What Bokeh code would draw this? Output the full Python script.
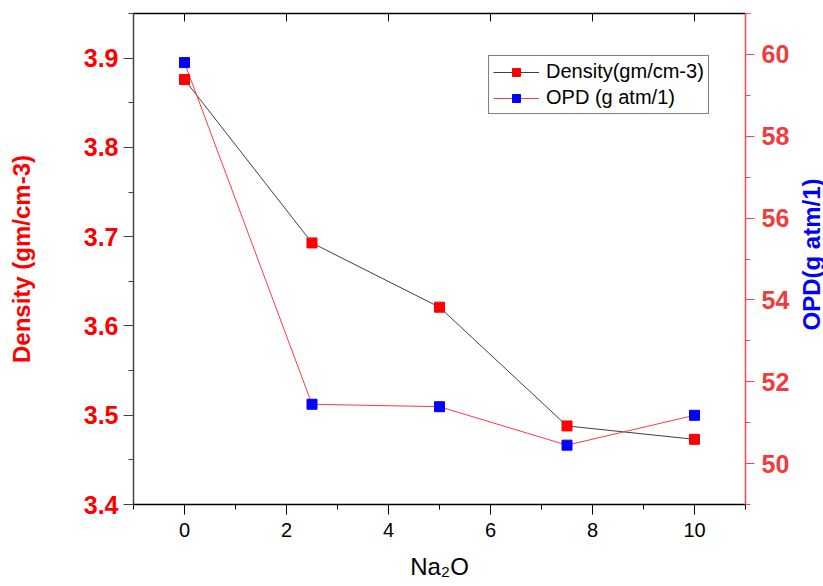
import math
from bokeh.plotting import figure
from bokeh.layouts import row
from bokeh.models import Range1d, LinearAxis, FixedTicker, Legend, LegendItem, Label
from bokeh.embed import file_html
from bokeh.resources import INLINE

na2o = [0, 2.5, 5, 7.5, 10]
density = [3.876, 3.693, 3.621, 3.488, 3.473]
opd = [59.80, 51.45, 51.39, 50.45, 51.18]

x_ticks = [0, 2, 4, 6, 8, 10]
left_ticks = [3.4, 3.5, 3.6, 3.7, 3.8, 3.9]
right_ticks = [50, 52, 54, 56, 58, 60]

FONT = "Liberation Sans"

p = figure(width=795, height=586, output_backend="svg", toolbar_location=None,
           x_range=Range1d(-1, 11), y_range=Range1d(3.4, 3.95),
           min_border_left=133, min_border_right=50, min_border_top=13,
           min_border_bottom=82)
p.extra_y_ranges = {"right": Range1d(49, 61)}
p.xgrid.visible = False
p.ygrid.visible = False
p.outline_line_color = None
p.background_fill_color = "white"
p.border_fill_color = "white"

# bottom axis
xa = p.xaxis[0]
xa.ticker = FixedTicker(ticks=x_ticks, minor_ticks=[-1, 1, 3, 5, 7, 9, 11])
xa.axis_label = "Na\u2082O"
xa.axis_label_text_font = FONT
xa.axis_label_text_font_style = "normal"
xa.axis_label_text_font_size = "24px"
xa.axis_label_text_color = "black"
xa.axis_label_standoff = 13
xa.major_label_text_font = FONT
xa.major_label_text_font_size = "20px"
xa.major_label_text_color = "black"
xa.major_label_standoff = 8
xa.axis_line_color = "black"
xa.axis_line_width = 1.5
xa.major_tick_line_color = "black"
xa.minor_tick_line_color = "black"
xa.major_tick_out = 10
xa.major_tick_in = 0
xa.minor_tick_out = 5
xa.minor_tick_in = 0

# left axis
ya = p.yaxis[0]
ya.ticker = FixedTicker(ticks=left_ticks, minor_ticks=[3.45, 3.55, 3.65, 3.75, 3.85, 3.95])
ya.axis_label = "Density (gm/cm-3)"
ya.axis_label_text_font = FONT
ya.axis_label_text_font_style = "bold"
ya.axis_label_text_font_size = "24px"
ya.axis_label_text_color = "#ff0000"
ya.axis_label_standoff = 46
ya.major_label_text_font = FONT
ya.major_label_text_font_style = "bold"
ya.major_label_text_font_size = "25px"
ya.major_label_text_color = "#ff0000"
ya.major_label_standoff = 5
ya.axis_line_color = "#444444"
ya.axis_line_width = 1.5
ya.major_tick_line_color = "#444444"
ya.minor_tick_line_color = "#444444"
ya.major_tick_out = 10
ya.major_tick_in = 0
ya.minor_tick_out = 5
ya.minor_tick_in = 0

# right axis
ra = LinearAxis(y_range_name="right",
                ticker=FixedTicker(ticks=right_ticks, minor_ticks=[49, 51, 53, 55, 57, 59, 61]))
ra.major_label_text_font = FONT
ra.major_label_text_font_style = "bold"
ra.major_label_text_font_size = "25px"
ra.major_label_text_color = "#f03c3c"
ra.major_label_standoff = 7
ra.axis_line_color = "#ff4444"
ra.axis_line_width = 1.5
ra.major_tick_line_color = "#ff4444"
ra.minor_tick_line_color = "#ff4444"
ra.major_tick_out = 9
ra.major_tick_in = 0
ra.minor_tick_out = 5
ra.minor_tick_in = 0
p.add_layout(ra, "right")

# top mirror axis (ticks only)
ta = LinearAxis(ticker=FixedTicker(ticks=x_ticks, minor_ticks=[]))
ta.major_label_overrides = {t: "" for t in x_ticks}
ta.major_label_text_font_size = "1px"
ta.major_label_standoff = 0
ta.axis_line_color = "black"
ta.axis_line_width = 1.5
ta.major_tick_line_color = "black"
ta.major_tick_in = 8
ta.major_tick_out = 0
ta.minor_tick_in = 0
ta.minor_tick_out = 0
p.add_layout(ta, "above")

# data
l1 = p.line(na2o, density, line_color="#404040", line_width=1)
l2 = p.line(na2o, opd, line_color="#ff3b3b", line_width=1, y_range_name="right")
s1 = p.scatter(na2o, density, marker="square", size=10, fill_color="#ff0000",
               line_color="#ff0000")
s2 = p.scatter(na2o, opd, marker="square", size=10, fill_color="#0000ff",
               line_color="#0000ff", y_range_name="right")

legend = Legend(items=[
    LegendItem(label="Density(gm/cm-3)", renderers=[l1, s1]),
    LegendItem(label="OPD (g atm/1)", renderers=[l2, s2]),
], location=(355, 390))
legend.label_text_font = FONT
legend.label_text_font_size = "20px"
legend.label_text_color = "black"
legend.glyph_width = 46
legend.glyph_height = 20
legend.label_height = 20
legend.label_standoff = 7
legend.spacing = 3
legend.padding = 4
legend.margin = 0
legend.border_line_color = "black"
legend.border_line_width = 1
legend.background_fill_color = "white"
legend.background_fill_alpha = 1
p.add_layout(legend, "center")

# narrow strip holding the right axis title, reading bottom-to-top
p2 = figure(width=28, height=586, output_backend="svg", toolbar_location=None,
            x_range=Range1d(0, 1), y_range=Range1d(0, 1),
            x_axis_location=None, y_axis_location=None, min_border=0)
p2.xgrid.visible = False
p2.ygrid.visible = False
p2.outline_line_color = None
p2.background_fill_color = "white"
p2.border_fill_color = "white"
rtitle = Label(x=16, y=250, x_units="screen", y_units="screen",
               text="OPD(g atm/1)", angle=math.pi / 2,
               text_align="center", text_baseline="middle",
               text_font=FONT, text_font_style="bold",
               text_font_size="24px", text_color="#0000ff")
p2.add_layout(rtitle)

layout = row(p, p2)
open("out.html", "w").write(file_html(layout, INLINE))
